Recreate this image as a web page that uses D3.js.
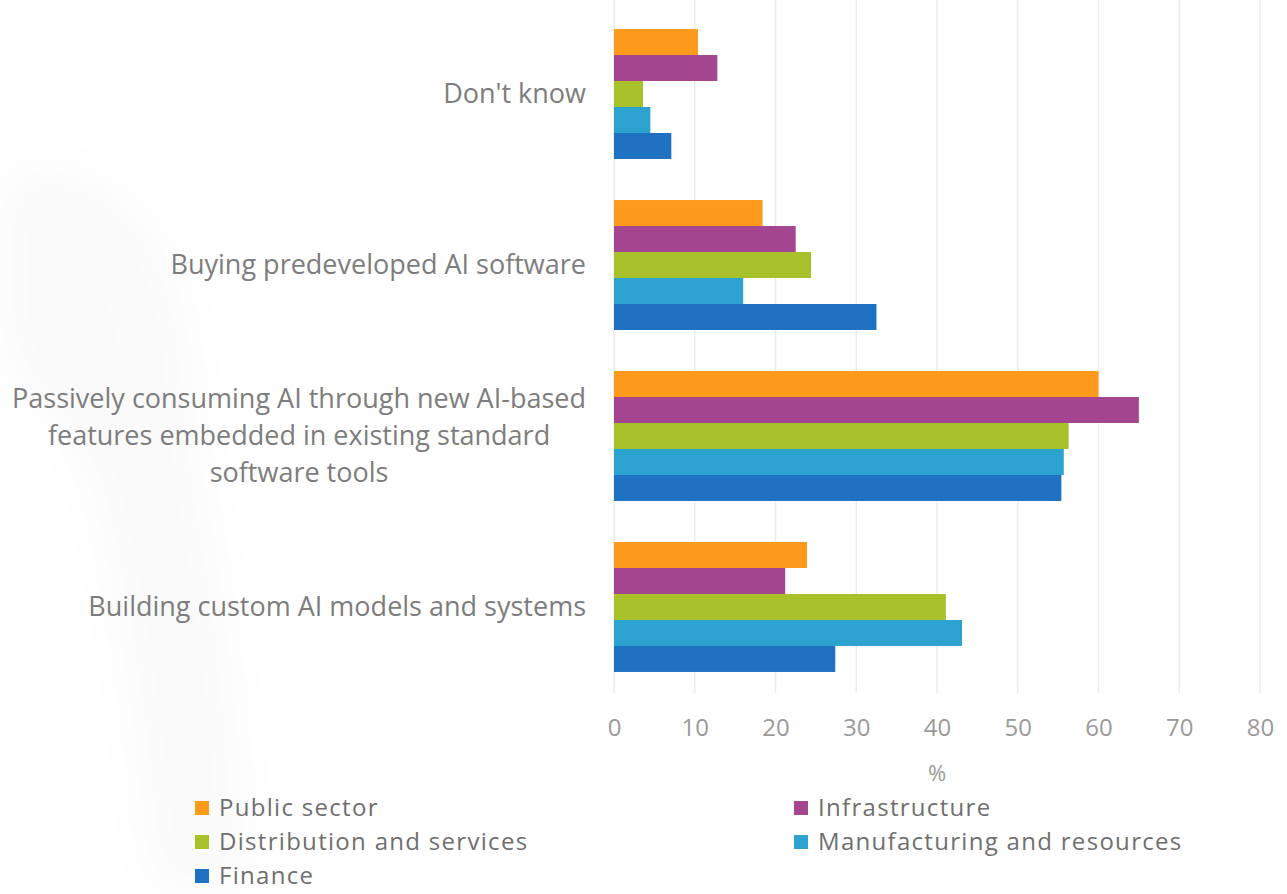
<!DOCTYPE html>
<html>
<head>
<meta charset="utf-8">
<script src="https://cdn.jsdelivr.net/npm/d3@7"></script>
<style>
  html, body { margin: 0; padding: 0; background: #ffffff; }
  svg { display: block; font-family: "Open Sans", "Noto Sans", sans-serif; }
</style>
</head>
<body>
<svg id="chart" width="1287" height="894"></svg>
<script>
// Approaches to AI adoption, share of respondents by sector (%)
const categories = [
  ["Don't know"],
  ["Buying predeveloped AI software"],
  ["Passively consuming AI through new AI-based", "features embedded in existing standard", "software tools"],
  ["Building custom AI models and systems"]
];
const seriesNames = ["Public sector", "Infrastructure", "Distribution and services", "Manufacturing and resources", "Finance"];
const seriesColors = ["#fd9a1c", "#a4468f", "#a8c12b", "#2ca3cf", "#1e72c1"];

const publicSector   = [10.4, 18.4, 60.0, 23.9];
const infrastructure = [12.8, 22.5, 65.0, 21.2];
const distribution   = [3.6, 24.4, 56.3, 41.1];
const manufacturing  = [4.5, 16.0, 55.7, 43.1];
const finance        = [7.1, 32.5, 55.4, 27.4];
const seriesValues = [publicSector, infrastructure, distribution, manufacturing, finance];

const xTicks = [0, 10, 20, 30, 40, 50, 60, 70, 80];
const axisTitle = "%";

const svg = d3.select("#chart");

// faint backdrop shading along the left edge
const defs = svg.append("defs");
defs.append("filter").attr("id", "soft").attr("x", "-50%").attr("y", "-50%").attr("width", "200%").attr("height", "200%")
  .append("feGaussianBlur").attr("stdDeviation", 30);
svg.append("path")
  .attr("d", "M0,170 C60,150 140,190 170,260 C200,330 190,420 210,520 C230,620 240,760 250,894 L150,894 C140,760 120,600 90,480 C60,400 0,380 0,340 Z")
  .attr("fill", "#000").attr("opacity", 0.018).attr("filter", "url(#soft)");

const x = d3.scaleLinear().domain([0, 80]).range([614, 1260]);
const keys = categories.map((c, i) => i);
const y = d3.scaleBand().domain(keys).range([8, 693]).paddingInner(0.24).paddingOuter(0.123);
const ySub = d3.scaleBand().domain(d3.range(seriesNames.length)).range([0, y.bandwidth()]);

// vertical gridlines
svg.append("g")
  .selectAll("line")
  .data(xTicks)
  .join("line")
  .attr("x1", d => x(d)).attr("x2", d => x(d))
  .attr("y1", 0).attr("y2", 693)
  .attr("stroke", "#ededed").attr("stroke-width", 1.5);

// bars
const groups = svg.append("g")
  .selectAll("g")
  .data(keys)
  .join("g")
  .attr("transform", d => `translate(0,${y(d)})`);

groups.selectAll("rect")
  .data(ci => seriesValues.map((vals, si) => ({ si, v: vals[ci] })))
  .join("rect")
  .attr("x", x(0))
  .attr("y", d => ySub(d.si))
  .attr("width", d => x(d.v) - x(0))
  .attr("height", ySub.bandwidth())
  .attr("fill", d => seriesColors[d.si]);

// category labels, right aligned block, lines centred within it
const labelRight = 586;
const lineGap = 37;
const labelG = svg.append("g")
  .attr("font-size", 27)
  .attr("fill", "#7d7d7d");
keys.forEach(ci => {
  const lines = categories[ci];
  const cy = y(ci) + y.bandwidth() / 2;
  const g = labelG.append("g");
  const texts = lines.map((line, li) =>
    g.append("text")
      .attr("y", cy + (li - (lines.length - 1) / 2) * lineGap)
      .attr("dy", "0.35em")
      .text(line)
  );
  const maxW = d3.max(texts, t => t.node().getComputedTextLength());
  const centre = labelRight - maxW / 2;
  texts.forEach(t => t.attr("x", centre).attr("text-anchor", "middle"));
});

// x axis tick labels
const axis = d3.axisBottom(x).tickValues(xTicks).tickSize(0).tickPadding(0);
const axisG = svg.append("g").attr("transform", "translate(0,719)").call(axis);
axisG.select(".domain").remove();
axisG.selectAll("text")
  .attr("font-size", 24)
  .attr("font-family", "\"Open Sans\", sans-serif")
  .attr("fill", "#9a9a9a");

svg.append("text")
  .attr("x", (x(0) + x(80)) / 2)
  .attr("y", 773)
  .attr("dy", "0.35em")
  .attr("text-anchor", "middle")
  .attr("font-size", 22)
  .attr("fill", "#9a9a9a")
  .text(axisTitle);

// legend, two columns
const legendCols = [195, 794];
const legendRows = [808, 842, 876];
const legend = svg.append("g")
  .attr("font-size", 24)
  .attr("letter-spacing", "1.3px")
  .attr("fill", "#6f6f6f");
seriesNames.forEach((name, i) => {
  const col = i % 2, row = Math.floor(i / 2);
  const g = legend.append("g").attr("transform", `translate(${legendCols[col]},${legendRows[row]})`);
  g.append("rect").attr("x", 0).attr("y", -7).attr("width", 14).attr("height", 14).attr("fill", seriesColors[i]);
  g.append("text").attr("x", 24).attr("dy", "0.35em").text(name);
});
</script>
</body>
</html>
